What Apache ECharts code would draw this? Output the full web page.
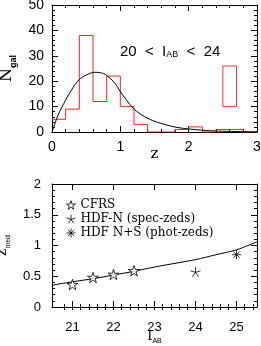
<!DOCTYPE html>
<html><head><meta charset="utf-8">
<script src="https://cdn.jsdelivr.net/npm/echarts@6/dist/echarts.min.js"></script>
<style>html,body{margin:0;padding:0;background:#fff}#c{width:261px;height:346px}</style>
</head><body><div id="c"></div>
<script>
// ---- top panel data ----
const zBinEdges = [0,0.2,0.4,0.6,0.8,1.0,1.2,1.4,1.6,1.8,2.0,2.2,2.4,2.6,2.8];
const nGal      = [5,9,38,12,22,10,3,0,0,1,2,0,1,1,0];
const zMax = 3.0;
const boxZ = [2.5, 2.7];
const boxN = [10, 26];
const curveZ = [0,0.09,0.2,0.31,0.4,0.5,0.62,0.7,0.8,0.92,1.0,1.09,1.19,1.29,1.43,1.63,1.83,2.0,2.25,2.5,2.75,3.0];
const curveN = [0,6.7,12.6,17.6,20.7,22.4,23.5,23.4,22.3,19.2,15.9,12.6,9.3,7.1,5.0,3.1,1.8,1.2,0.6,0.3,0.15,0.05];
// ---- bottom panel data ----
const iabMin = 20.5, iabMax = 25.5;
const iabTicks = [21,22,23,24,25];
const iabFit = [20.5,21,21.5,22,22.5,23,23.5,24,24.5,25,25.5];
const zFit   = [0.355,0.41,0.46,0.52,0.58,0.65,0.71,0.77,0.85,0.93,1.06];
const cfrsI = [21,21.5,22,22.5];
const cfrsZ = [0.365,0.48,0.53,0.59];
const hdfnI = [24];
const hdfnZ = [0.57];
const hdfnsI = [25];
const hdfnsZ = [0.85];

const histData = zBinEdges.map((e,i)=>[e,nGal[i]]).concat([[zMax,nGal[nGal.length-1]]]);
const boxData = [[boxZ[0],boxN[0]],[boxZ[1],boxN[0]],[boxZ[1],boxN[1]],[boxZ[0],boxN[1]],[boxZ[0],boxN[0]]];
const curveData = curveZ.map((z,i)=>[z,curveN[i]]);
const fitData = iabFit.map((x,i)=>[x,zFit[i]]);
const iabMinor = [];
for (let k = Math.round(iabMin*5)+1; k < Math.round(iabMax*5); k++) iabMinor.push(k/5);

const starPath = 'path://M50 0 L61.17 34.63 L97.55 34.55 L68.07 55.87 L79.39 90.45 L50 69 L20.61 90.45 L31.93 55.87 L2.45 34.55 L38.83 34.63 Z';
const skelPath = 'path://M50 50 L50 0 M50 50 L97.55 34.55 M50 50 L79.39 90.45 M50 50 L20.61 90.45 M50 50 L2.45 34.55';
const astPath = 'path://M50 0 L50 100 M0 50 L100 50 M14.6 14.6 L85.4 85.4 M85.4 14.6 L14.6 85.4';

const SANS = 'Liberation Sans';
const SERIF = 'DejaVu Serif';

function ax(o){
  return Object.assign({
    type:'value',
    axisLine:{show:true,onZero:false,lineStyle:{color:'#000',width:1}},
    axisTick:{show:true,inside:true,length:6,lineStyle:{color:'#000'}},
    minorTick:{show:true,splitNumber:5,length:3,lineStyle:{color:'#000'}},
    splitLine:{show:false},
    minorSplitLine:{show:false},
  },o);
}
const lblTop = {color:'#000',fontFamily:SANS,fontSize:14};
const lblBot = {color:'#000',fontFamily:SANS,fontSize:13};
const noLbl = {show:false};

const chart = echarts.init(document.getElementById('c'),null,{renderer:'canvas'});
chart.setOption({
  animation:false,
  backgroundColor:'#fff',
  grid:[
    {left:52,top:5,width:205,height:127,containLabel:false,outerBoundsMode:'none'},
    {left:52,top:184,width:205,height:123,containLabel:false,outerBoundsMode:'none'}
  ],
  xAxis:[
    ax({gridIndex:0,position:'bottom',min:0,max:3,interval:1,axisLabel:Object.assign({margin:8},lblTop),
      name:'z',nameLocation:'middle',nameGap:15,nameMoveOverlap:false,
      nameTextStyle:{color:'#000',fontFamily:SERIF,fontSize:15,verticalAlign:'top'}}),
    ax({gridIndex:0,position:'top',min:0,max:3,interval:1,axisLabel:noLbl}),
    ax({gridIndex:1,position:'bottom',min:iabMin,max:iabMax,minorTick:{show:false},
      axisTick:{show:true,inside:true,length:6,lineStyle:{color:'#000'},customValues:iabTicks},
      axisLabel:Object.assign({margin:14,customValues:iabTicks},lblBot),
      name:'{n|I}{s|AB}',nameLocation:'middle',nameGap:23,nameMoveOverlap:false,
      nameTextStyle:{color:'#000',verticalAlign:'top',rich:{n:{fontFamily:SERIF,fontSize:13,color:'#000',verticalAlign:'bottom'},s:{fontFamily:SANS,fontSize:7,color:'#000',verticalAlign:'bottom',padding:[0,0,-2,0]}}}}),
    ax({gridIndex:1,position:'top',min:iabMin,max:iabMax,minorTick:{show:false},
      axisTick:{show:true,inside:true,length:6,lineStyle:{color:'#000'},customValues:iabTicks},
      axisLabel:noLbl}),
    ax({gridIndex:1,position:'bottom',min:iabMin,max:iabMax,minorTick:{show:false},axisLine:{show:false},
      axisTick:{show:true,inside:true,length:3,lineStyle:{color:'#000'},customValues:iabMinor},
      axisLabel:noLbl}),
    ax({gridIndex:1,position:'top',min:iabMin,max:iabMax,minorTick:{show:false},axisLine:{show:false},
      axisTick:{show:true,inside:true,length:3,lineStyle:{color:'#000'},customValues:iabMinor},
      axisLabel:noLbl})
  ],
  yAxis:[
    ax({gridIndex:0,position:'left',min:0,max:50,interval:10,axisLabel:Object.assign({margin:8},lblTop),
      name:'{n|N}{s|gal}',nameLocation:'middle',nameGap:37,nameRotate:90,
      nameTextStyle:{color:'#000',rich:{n:{fontFamily:SERIF,fontSize:16,color:'#000',verticalAlign:'bottom'},s:{fontFamily:SANS,fontSize:9,fontWeight:'bold',color:'#000',verticalAlign:'bottom',padding:[0,0,-3,0]}}}}),
    ax({gridIndex:0,position:'right',min:0,max:50,interval:10,axisLabel:noLbl}),
    ax({gridIndex:1,position:'left',min:0,max:2,interval:0.5,axisLabel:Object.assign({margin:11},lblBot),
      name:'{n|z}{s|med}',nameLocation:'middle',nameGap:36,nameRotate:90,
      nameTextStyle:{color:'#000',rich:{n:{fontFamily:SERIF,fontSize:14,color:'#000',verticalAlign:'bottom'},s:{fontFamily:SANS,fontSize:7,color:'#000',verticalAlign:'bottom',padding:[0,0,-3,0]}}}}),
    ax({gridIndex:1,position:'right',min:0,max:2,interval:0.5,axisLabel:noLbl})
  ],
  legend:{
    data:[
      {name:'CFRS',icon:starPath,itemStyle:{color:'#fff',borderColor:'#000',borderWidth:1}},
      {name:'HDF-N (spec-zeds)',icon:skelPath,itemStyle:{color:'none',borderColor:'#000',borderWidth:1}},
      {name:'HDF N+S (phot-zeds)',icon:astPath,itemStyle:{color:'none',borderColor:'#000',borderWidth:1}}
    ],
    orient:'vertical',left:64,top:198,padding:0,itemGap:0,itemWidth:9,itemHeight:9,
    textStyle:{color:'#000',fontFamily:SERIF,fontSize:12,lineHeight:14},
    selectedMode:false
  },
  graphic:[{
    type:'text',left:120,top:44,
    style:{text:'20  <  I{s|AB}  <  24',fill:'#000',font:'15px '+SANS,
      rich:{s:{fontFamily:SANS,fontSize:9,fill:'#000',padding:[6,0,0,0]}}}
  }],
  series:[
    {type:'line',xAxisIndex:0,yAxisIndex:0,data:histData,step:'end',symbol:'none',
      lineStyle:{color:'#ff2020',width:1},z:2},
    {type:'line',xAxisIndex:0,yAxisIndex:0,data:boxData,symbol:'none',
      lineStyle:{color:'#ff3030',width:1},z:2},
    {type:'line',xAxisIndex:0,yAxisIndex:0,data:curveData,smooth:0.3,symbol:'none',
      lineStyle:{color:'#000',width:1},z:3},
    {type:'line',xAxisIndex:2,yAxisIndex:2,data:fitData,smooth:0.3,symbol:'none',
      lineStyle:{color:'#000',width:1}},
    {name:'CFRS',type:'scatter',xAxisIndex:2,yAxisIndex:2,data:cfrsI.map((x,i)=>[x,cfrsZ[i]]),
      symbol:starPath,symbolSize:11,symbolKeepAspect:true,
      itemStyle:{color:'#fff',borderColor:'#000',borderWidth:1},z:4},
    {name:'HDF-N (spec-zeds)',type:'scatter',xAxisIndex:2,yAxisIndex:2,data:hdfnI.map((x,i)=>[x,hdfnZ[i]]),
      symbol:skelPath,symbolSize:10,symbolKeepAspect:true,
      itemStyle:{color:'none',borderColor:'#000',borderWidth:1},z:4},
    {name:'HDF N+S (phot-zeds)',type:'scatter',xAxisIndex:2,yAxisIndex:2,data:hdfnsI.map((x,i)=>[x,hdfnsZ[i]]),
      symbol:astPath,symbolSize:9,symbolKeepAspect:true,
      itemStyle:{color:'none',borderColor:'#000',borderWidth:1},z:4}
  ]
});
</script></body></html>
